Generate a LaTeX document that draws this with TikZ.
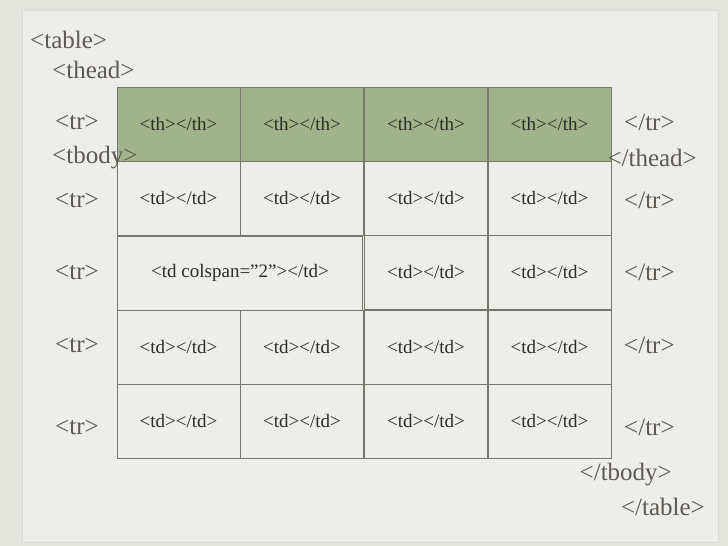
\documentclass[tikz,border=0pt]{standalone}
\usepackage{fontspec}
\setmainfont{Liberation Serif}[Ligatures=ResetAll]
\begin{document}
\begin{tikzpicture}[x=1pt,y=-1pt,
  tag/.style={text=tagc,font=\fontsize{25}{26}\selectfont,inner sep=0pt},
  cell/.style={draw=linec,line width=0.8pt,minimum width=123pt,minimum height=74pt,inner sep=0pt,text=cellc,font=\fontsize{19}{20}\selectfont},
  hcell/.style={cell,fill=headc}]
\definecolor{bgc}{HTML}{E4E4DF}
\definecolor{panelc}{HTML}{EDEDE9}
\definecolor{tagc}{HTML}{5E5953}
\definecolor{cellc}{HTML}{2E2C28}
\definecolor{linec}{HTML}{77776E}
\definecolor{headc}{HTML}{A0B48A}
\useasboundingbox (0,0) rectangle (728,546);
\fill[bgc] (0,0) rectangle (728,546);
\draw[fill=panelc,draw=white!85!black] (22,10) rectangle (718,542);
% header row
\foreach \i/\x in {1/178.5,2/302,3/426,4/549.5}{
  \node[hcell] (h\i) at (\x,124) {<th></th>};}
\foreach \r/\y in {1/198,3/347,4/421}{
  \foreach \i/\x in {1/178.5,2/302,3/426,4/549.5}{
    \node[cell] (c\r\i) at (\x,\y) {<td></td>};}}
\node[cell,minimum width=245pt] (c2a) at (240,273) {<td colspan="2"></td>};
\foreach \i/\x in {3/426,4/549.5}{
  \node[cell] (c2\i) at (\x,272) {<td></td>};}
% tags
\node[tag,anchor=west] (t1) at (30,40) {<table>};
\node[tag,anchor=west] (t2) at (52,70) {<thead>};
\node[tag,anchor=west] (t3) at (52,158) {<tbody>};
\node[tag,anchor=east] (t4) at (697,158) {</thead>};
\node[tag,anchor=east] (t5) at (672,475) {</tbody>};
\node[tag,anchor=east] (t6) at (705,507) {</table>};
\foreach \n/\y in {a/122,b/200,c/272,d/345,e/427}{
  \node[tag,anchor=west] (o\n) at (55,\y) {<tr>};
  \node[tag,anchor=west] (e\n) at (624,\y) {</tr>};}
\end{tikzpicture}
\end{document}
